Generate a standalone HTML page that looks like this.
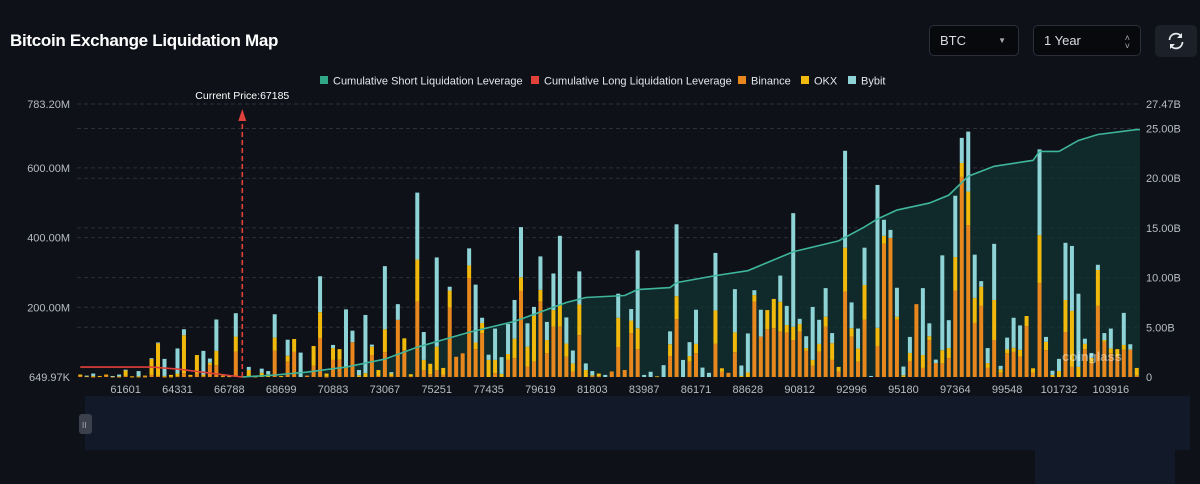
<!DOCTYPE html>
<html><head><meta charset="utf-8">
<style>
html,body{margin:0;padding:0;background:#0e1118;width:1200px;height:484px;overflow:hidden;font-family:"Liberation Sans",sans-serif;}
.title{position:absolute;left:10px;top:31px;color:#fff;font-weight:bold;font-size:17px;letter-spacing:-0.3px;}
.sel{position:absolute;top:25px;height:31px;border:1px solid #2a2f3a;border-radius:5px;background:#07090d;color:#d8dbe0;font-size:13px;box-sizing:border-box;line-height:29px;padding-left:10px;}
.btn{position:absolute;left:1155px;top:25px;width:42px;height:32px;border-radius:5px;background:#1c2029;}
</style></head>
<body>
<div class="title">Bitcoin Exchange Liquidation Map</div>
<div class="sel" style="left:929px;width:90px">BTC<span style="position:absolute;right:12px;top:0;font-size:8px;color:#aaa">▼</span></div>
<div class="sel" style="left:1033px;width:108px">1 Year<span style="position:absolute;right:10px;top:-1px;font-size:9px;color:#aaa;line-height:8px;padding-top:9px">˄<br>˅</span></div>
<div class="btn">
<svg width="42" height="32" viewBox="0 0 42 32"><g fill="none" stroke="#e6e8ec" stroke-width="1.8"><path d="M14.5 15a6.5 6.5 0 0 1 11.5-4"/><path d="M27.5 17a6.5 6.5 0 0 1-11.5 4"/></g><path d="M27 8v5h-5z" fill="#e6e8ec"/><path d="M15 24v-5h5z" fill="#e6e8ec"/></svg></div>
<svg id="chart" width="1200" height="484" style="position:absolute;left:0;top:0"></svg>
<script>
const binance=[3,2,1,2,6,1,1,3,1,1,1,6,3,1,1,2,11,2,9,2,34,34,2,2,73,1,0,1,0,0,75,2,44,72,0,4,32,112,1,49,50,25,100,0,0,63,3,71,2,164,77,2,216,20,8,20,6,199,58,68,284,80,126,0,11,0,49,54,247,30,44,216,68,144,144,58,15,120,0,2,2,0,16,86,20,126,80,0,0,0,0,60,166,0,44,68,0,0,95,15,12,71,0,0,216,116,137,140,130,127,106,130,76,32,73,144,49,15,245,116,44,164,0,89,382,399,164,0,46,209,26,106,40,39,54,248,574,436,155,204,26,106,12,68,72,58,146,12,269,77,0,0,129,29,0,80,40,204,101,68,60,78,79,4];
const okx=[4,1,2,1,1,1,1,17,1,1,3,46,94,2,5,8,109,4,54,5,7,41,2,1,43,1,20,1,12,8,38,1,17,37,0,0,57,74,9,34,30,5,0,5,11,24,17,66,8,0,34,6,121,29,30,67,20,49,0,0,36,19,29,49,38,9,17,56,39,57,132,34,38,48,62,38,24,88,20,3,8,0,0,84,0,36,60,0,0,2,0,34,66,0,16,27,0,0,96,10,0,57,3,13,19,0,55,84,86,22,38,22,7,17,22,29,48,14,126,24,38,100,0,52,23,0,9,5,23,0,37,11,0,38,29,96,40,96,72,55,14,115,10,11,12,20,29,13,138,24,6,17,92,161,29,15,15,103,5,14,20,14,0,22];
const bybit=[0,1,7,0,0,1,5,1,0,15,0,2,2,49,0,72,17,0,0,68,12,90,0,1,67,1,9,1,12,9,67,0,46,0,70,0,0,103,0,9,0,164,33,15,167,6,0,181,4,45,0,0,192,80,0,256,0,11,0,0,49,166,15,15,90,48,86,111,144,67,25,96,52,105,199,75,37,95,19,12,0,6,0,69,0,33,223,6,15,0,34,37,206,49,40,98,27,12,165,0,0,124,30,112,14,77,0,0,75,55,326,15,34,152,69,82,29,0,278,74,57,107,3,410,46,23,83,25,46,0,192,37,10,272,80,176,72,172,124,16,43,161,10,34,86,70,0,0,246,14,12,35,164,186,210,15,14,15,20,57,0,92,15,0];
const tickIdx=[7,15,23,31,39,47,55,63,71,79,87,95,103,111,119,127,135,143,151,159];
const tickLabels=["61601","64331","66788","68699","70883","73067","75251","77435","79619","81803","83987","86171","88628","90812","92996","95180","97364","99548","101732","103916"];
const shortIdx=[25,30,35,41,47,52,60,67,75,78,84,86,91,92,98,103,110,117,121,123,126,131,134,137,141,147,148,151,154,157,163];
const shortVals=[0,0.2,0.5,1.0,1.8,3.0,4.5,5.6,7.5,8.0,8.2,8.8,9.0,9.5,10.2,10.7,12.6,13.7,15.1,15.9,16.8,17.5,18.3,20.2,21.2,21.8,22.7,22.7,23.8,24.4,24.9];
const longIdx=[0,11,15,20,23,25];
const longVals=[1.0,1.0,0.8,0.4,0.15,0];
const currentIdx=25;
const leftTicks=[783.2,600,400,200];
const leftTickLabels=["783.20M","600.00M","400.00M","200.00M"];
const rightTicks=[27.47,25,20,15,10,5];
const rightTickLabels=["27.47B","25.00B","20.00B","15.00B","10.00B","5.00B"];

const NS="http://www.w3.org/2000/svg";
const svg=document.getElementById('chart');
const X0=77,X1=1140,Y0=377,YT=104,N=binance.length;
const step=(X1-X0)/N;
const xc=i=>X0+(i+0.5)*step;
const yL=v=>Y0-v/783.2*(Y0-YT);
const yR=v=>Y0-v/27.47*(Y0-YT);
function el(tag,attrs,parent){const e=document.createElementNS(NS,tag);for(const k in attrs)e.setAttribute(k,attrs[k]);(parent||svg).appendChild(e);return e;}
function txt(s,attrs){const t=el('text',Object.assign({fill:'#b8bcc6','font-size':11,'font-family':'Liberation Sans, sans-serif'},attrs));t.textContent=s;return t;}

// slider area
const sl=el('path',{d:'M85 396H1190V450H1175V484H1035V450H85Z',fill:'#121a2a'});


const hd=el('rect',{x:79,y:414,width:13,height:20,rx:3,fill:'#3a404c'});


txt('II',{x:82,y:428,'font-size':8,fill:'#aab'});

// grid
const grid=el('g',{});


leftTicks.forEach(v=>el('line',{x1:X0,x2:X1,y1:yL(v),y2:yL(v),stroke:'#2c313b','stroke-dasharray':'4 3','stroke-width':1},grid));
rightTicks.forEach(v=>el('line',{x1:X0,x2:X1,y1:yR(v),y2:yR(v),stroke:'#2c313b','stroke-dasharray':'4 3','stroke-width':1},grid));

// axis labels
leftTicks.forEach((v,i)=>{const t=txt(leftTickLabels[i],{x:70,y:yL(v)+4,'text-anchor':'end'});

});
const lb=txt('649.97K',{x:70,y:Y0+4,'text-anchor':'end'});


rightTicks.forEach((v,i)=>{const t=txt(rightTickLabels[i],{x:1146,y:yR(v)+4});

});
const rz=txt('0',{x:1146,y:Y0+4});


tickIdx.forEach((ix,i)=>{const t=txt(tickLabels[i],{x:xc(ix),y:393,'text-anchor':'middle'});

});

// short area fill
let d='M'+xc(shortIdx[0])+' '+Y0;
shortIdx.forEach((ix,i)=>{d+=' L'+xc(ix)+' '+yR(shortVals[i]);});
d+=' L'+X1+' '+yR(shortVals[shortVals.length-1])+' L'+X1+' '+Y0+'Z';
const area=el('path',{d:d,fill:'#123230','fill-opacity':0.75});



// bars
const bw=4;
const bars=el('g',{});


for(let i=0;i<N;i++){
  const x=xc(i)-bw/2;
  const segs=[[binance[i],'#e8871e'],[okx[i],'#f0b90b'],[bybit[i],'#8ed3d6']];
  let acc=0;
  segs.forEach(([v,c],k)=>{
    if(v<=0)return;
    const ya=yL(acc),yb=yL(acc+v);acc+=v;
    const r=el('rect',{x:x,y:yb,width:bw,height:Math.max(0.8,ya-yb),fill:c},bars);
    
    
  });
}

// short line
let p='';
shortIdx.forEach((ix,i)=>{p+=(i?' L':'M')+xc(ix)+' '+yR(shortVals[i]);});
p+=' L'+X1+' '+yR(shortVals[shortVals.length-1]);
const sline=el('path',{d:p,fill:'none',stroke:'#3fb59c','stroke-width':1.6});


// long line
let q='';
longIdx.forEach((ix,i)=>{q+=(i?' L':'M')+xc(ix)+' '+yR(longVals[i]);});
const lline=el('path',{d:q,fill:'none',stroke:'#e0413a','stroke-width':1.6});



// current price marker
const cx=xc(currentIdx);
const cp=el('line',{x1:cx,x2:cx,y1:Y0,y2:YT+12,stroke:'#e0413a','stroke-width':1.6,'stroke-dasharray':'5 3'});


el('path',{d:`M${cx-4} ${YT+17} L${cx} ${YT+5} L${cx+4} ${YT+17} Z`,fill:'#e0413a'});
const cpl=txt('Current Price:67185',{x:cx,y:99,'text-anchor':'middle',fill:'#ffffff','font-size':10.5});



// watermark
const wm=txt('coinglass',{x:1062,y:361,fill:'#ffffff','fill-opacity':0.45,'font-size':13,'font-weight':'bold'});



// legend
const legend=[['Cumulative Short Liquidation Leverage','#2fa88a',320],['Cumulative Long Liquidation Leverage','#e0413a',531],['Binance','#e8871e',738],['OKX','#f0b90b',801],['Bybit','#8ed3d6',848]];
legend.forEach(([n,c,x])=>{
  const g=el('g',{});
  
  
  el('rect',{x:x,y:76,width:8,height:8,fill:c},g);
  const t=txt(n,{x:x+13,y:84.5,fill:'#e4e6ea','font-size':11},);
  g.appendChild(t);
});
</script>
</body></html>
